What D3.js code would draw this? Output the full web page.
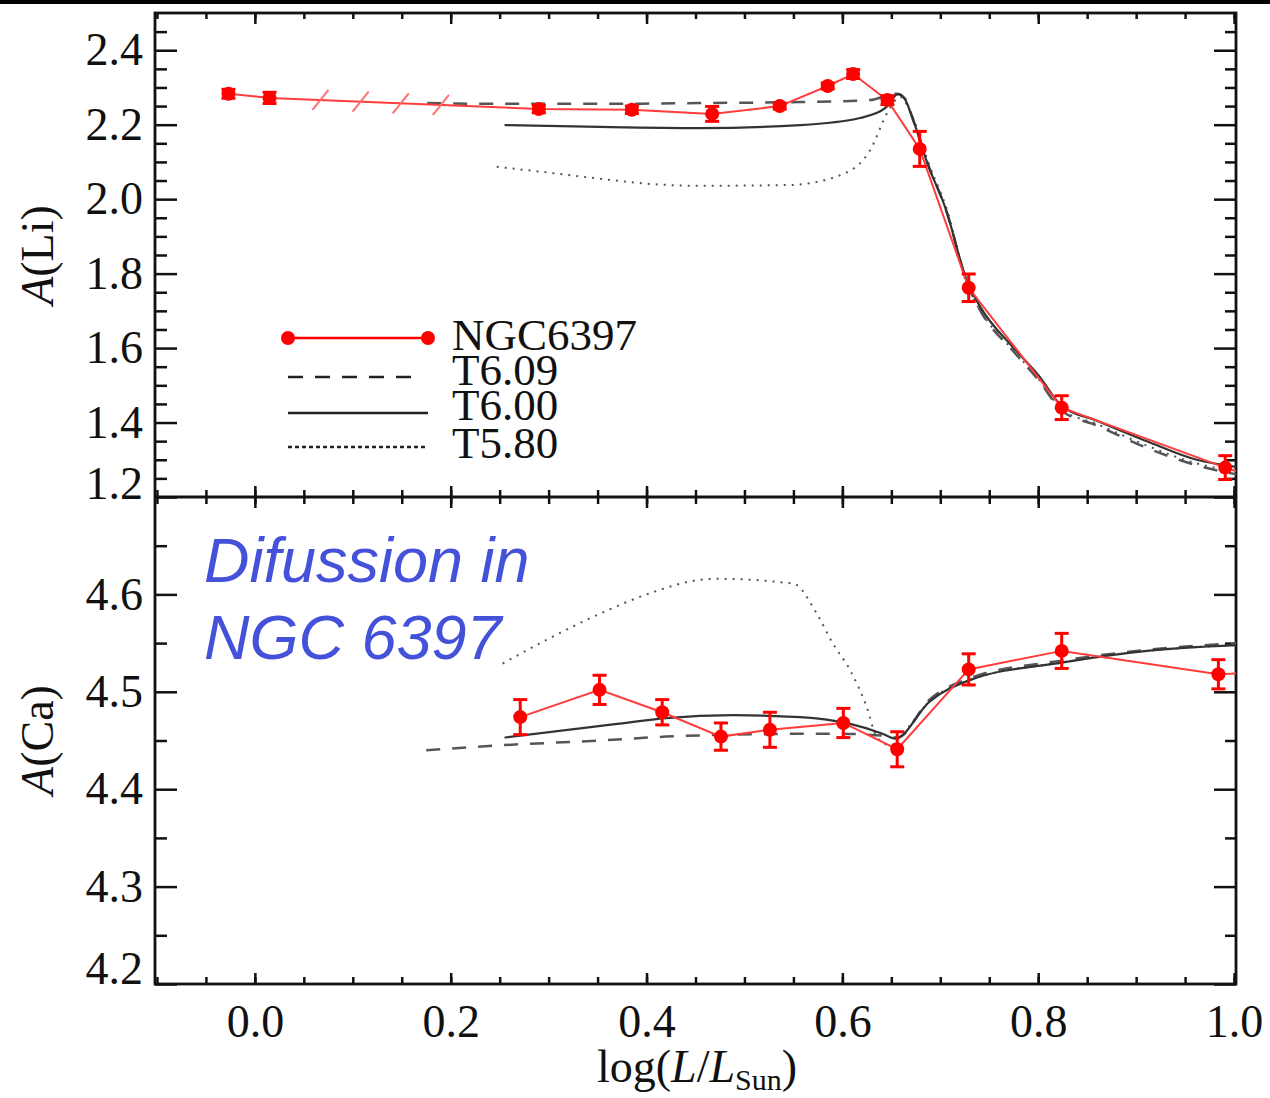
<!DOCTYPE html>
<html>

<head>
    <meta charset='utf-8' />
    <title>Li and Ca abundances NGC6397</title>
    <script src="https://cdn.jsdelivr.net/npm/d3@7"></script>
    <style>
        body {
            margin: 0;
            padding: 0;
            background: #fff;
        }

        .tick line {
            stroke: #111;
            stroke-width: 2.5;
        }

        .tick text {
            font-family: "Liberation Serif", "Times New Roman", serif;
            font-size: 46px;
            fill: #111;
        }
    </style>
</head>

<body>
    <div id='chart'></div>
    <script>
        // NGC6397 observed points, A(Li)
        var liX = [-0.027, 0.015, 0.290, 0.385, 0.467, 0.536, 0.585, 0.611, 0.646, 0.679, 0.729, 0.824, 0.991];
        var liY = [2.283, 2.272, 2.242, 2.240, 2.229, 2.250, 2.304, 2.336, 2.266, 2.135, 1.762, 1.440, 1.279];
        var liErr = [0.012, 0.015, 0.010, 0.010, 0.020, 0.008, 0.008, 0.012, 0.012, 0.047, 0.037, 0.032, 0.032];
        var liTail = [1.004, 1.268];
        var slashX = [0.067, 0.108, 0.149, 0.190];

        // NGC6397 observed points, A(Ca)
        var caX = [0.271, 0.352, 0.416, 0.476, 0.526, 0.601, 0.656, 0.729, 0.824, 0.984];
        var caY = [4.474, 4.502, 4.479, 4.454, 4.461, 4.468, 4.441, 4.523, 4.542, 4.518];
        var caErr = [0.018, 0.015, 0.013, 0.014, 0.018, 0.015, 0.018, 0.016, 0.018, 0.015];
        var caTail = [1.004, 4.519];

        // model tracks [logL, A]
        var t609Li = [[0.176, 2.258], [0.250, 2.256], [0.352, 2.256], [0.455, 2.258], [0.557, 2.261], [0.628, 2.266],
            [0.654, 2.283], [0.664, 2.270], [0.672, 2.215], [0.688, 2.090], [0.706, 1.970], [0.728, 1.770],
            [0.741, 1.700], [0.775, 1.590], [0.800, 1.515], [0.824, 1.432], [0.860, 1.392], [0.911, 1.332],
            [0.962, 1.285], [1.004, 1.260]];
        var t600Li = [[0.255, 2.199], [0.352, 2.194], [0.455, 2.191], [0.557, 2.199], [0.618, 2.218], [0.644, 2.245],
            [0.657, 2.283], [0.664, 2.268], [0.672, 2.215], [0.687, 2.095], [0.705, 1.978], [0.728, 1.775],
            [0.741, 1.710], [0.775, 1.600], [0.800, 1.528], [0.824, 1.445], [0.860, 1.405], [0.911, 1.350],
            [0.962, 1.300], [1.004, 1.280]];
        var t580Li = [[0.247, 2.087], [0.301, 2.071], [0.352, 2.055], [0.403, 2.041], [0.455, 2.036], [0.546, 2.038],
            [0.603, 2.070], [0.628, 2.130], [0.647, 2.237], [0.659, 2.275], [0.669, 2.237], [0.689, 2.090],
            [0.707, 1.970], [0.728, 1.765], [0.741, 1.700], [0.775, 1.592], [0.800, 1.518], [0.824, 1.436],
            [0.860, 1.396], [0.911, 1.338], [0.962, 1.290], [1.004, 1.268]];

        var t609Ca = [[0.175, 4.440], [0.250, 4.445], [0.352, 4.450], [0.420, 4.454], [0.488, 4.456], [0.590, 4.457],
            [0.641, 4.455], [0.656, 4.453], [0.689, 4.492], [0.730, 4.514], [0.824, 4.532], [0.911, 4.543], [1.004, 4.550]];
        var t600Ca = [[0.255, 4.453], [0.370, 4.467], [0.420, 4.473], [0.488, 4.476], [0.557, 4.474], [0.608, 4.467],
            [0.641, 4.457], [0.654, 4.452], [0.689, 4.490], [0.730, 4.512], [0.824, 4.530], [0.911, 4.542], [1.004, 4.548]];
        var t580Ca = [[0.253, 4.529], [0.301, 4.555], [0.352, 4.580], [0.403, 4.601], [0.455, 4.615], [0.472, 4.616],
            [0.550, 4.611], [0.574, 4.580], [0.590, 4.550], [0.608, 4.522], [0.625, 4.484], [0.635, 4.454],
            [0.649, 4.445], [0.660, 4.455], [0.689, 4.490], [0.730, 4.512], [0.824, 4.530], [0.911, 4.542], [1.004, 4.548]];

        // ticks
        var xMajor = [0, 0.2, 0.4, 0.6, 0.8, 1.0];
        var xMinor = d3.range(-0.1, 1.0001, 0.05).map(function (v) { return +v.toFixed(2); });
        var liMajor = [1.2, 1.4, 1.6, 1.8, 2.0, 2.2, 2.4];
        var liMinor = [1.25, 1.3, 1.35, 1.45, 1.5, 1.55, 1.65, 1.7, 1.75, 1.85, 1.9, 1.95, 2.05, 2.1, 2.15, 2.25, 2.3, 2.35, 2.45];
        var caMajor = [4.2, 4.3, 4.4, 4.5, 4.6];
        var caMinor = [4.25, 4.35, 4.45, 4.55, 4.65];

        var legendNames = ["NGC6397", "T6.09", "T6.00", "T5.80"];

        var W = 1270, H = 1098;
        var L = 155, R = 1236, T = 13, M = 497, B = 984;
        var serif = '"Liberation Serif", "Times New Roman", serif';

        var svg = d3.select('#chart').append('svg')
            .attr('width', W).attr('height', H);

        svg.append('rect').attr('x', 0).attr('y', 0).attr('width', W).attr('height', 4).attr('fill', '#000');

        var x = d3.scaleLinear().domain([-0.102, 1.002]).range([L, R]);
        var yLi = d3.scaleLinear().domain([1.2, 2.5]).range([M, T]);
        var yCa = d3.scaleLinear().domain([4.2, 4.7]).range([B, M]);

        var defs = svg.append('defs');
        defs.append('clipPath').attr('id', 'clipTop').append('rect')
            .attr('x', L).attr('y', T).attr('width', R - L).attr('height', M - T);
        defs.append('clipPath').attr('id', 'clipBot').append('rect')
            .attr('x', L).attr('y', M).attr('width', R - L).attr('height', B - M);

        // axes: all ticks inward
        function addAxis(axis, tx, ty) {
            var g = svg.append('g').attr('transform', 'translate(' + tx + ',' + ty + ')').call(axis);
            g.select('.domain').remove();
            return g;
        }
        var none = function () { return ''; };

        // top panel
        var gLiL = addAxis(d3.axisLeft(yLi).tickValues(liMajor).tickSize(-22).tickPadding(12).tickFormat(d3.format('.1f')), L, 0);
        addAxis(d3.axisLeft(yLi).tickValues(liMinor).tickSize(-12).tickFormat(none), L, 0);
        addAxis(d3.axisRight(yLi).tickValues(liMajor).tickSize(-22).tickFormat(none), R, 0);
        addAxis(d3.axisRight(yLi).tickValues(liMinor).tickSize(-11).tickFormat(none), R, 0);
        addAxis(d3.axisTop(x).tickValues(xMajor).tickSize(-11).tickFormat(none), 0, T);
        addAxis(d3.axisTop(x).tickValues(xMinor).tickSize(-6).tickFormat(none), 0, T);
        addAxis(d3.axisBottom(x).tickValues(xMajor).tickSize(-11).tickFormat(none), 0, M);
        addAxis(d3.axisBottom(x).tickValues(xMinor).tickSize(-7).tickFormat(none), 0, M);

        // bottom panel
        var gCaL = addAxis(d3.axisLeft(yCa).tickValues(caMajor).tickSize(-22).tickPadding(12).tickFormat(d3.format('.1f')), L, 0);
        addAxis(d3.axisLeft(yCa).tickValues(caMinor).tickSize(-12).tickFormat(none), L, 0);
        addAxis(d3.axisRight(yCa).tickValues(caMajor).tickSize(-22).tickFormat(none), R, 0);
        addAxis(d3.axisRight(yCa).tickValues(caMinor).tickSize(-11).tickFormat(none), R, 0);
        addAxis(d3.axisTop(x).tickValues(xMajor).tickSize(-11).tickFormat(none), 0, M);
        addAxis(d3.axisTop(x).tickValues(xMinor).tickSize(-7).tickFormat(none), 0, M);
        addAxis(d3.axisBottom(x).tickValues(xMajor).tickSize(-11).tickPadding(20).tickFormat(d3.format('.1f')), 0, B);
        addAxis(d3.axisBottom(x).tickValues(xMinor).tickSize(-7).tickFormat(none), 0, B);

        // lowest labels are lifted to stay inside the panel
        gLiL.selectAll('.tick').filter(function (d) { return d === 1.2; }).select('text').attr('dy', '0.32em').attr('y', -13);
        gCaL.selectAll('.tick').filter(function (d) { return d === 4.2; }).select('text').attr('y', -15);

        // frame
        svg.append('rect').attr('x', L).attr('y', T).attr('width', R - L).attr('height', B - T)
            .attr('fill', 'none').attr('stroke', '#111').attr('stroke-width', 2.8);
        svg.append('line').attr('x1', L).attr('x2', R).attr('y1', M).attr('y2', M)
            .attr('stroke', '#111').attr('stroke-width', 2.8);

        // model curves
        function drawModels(y, clip, t609, t600, t580) {
            var g = svg.append('g').attr('clip-path', 'url(#' + clip + ')');
            var line = d3.line().x(function (d) { return x(d[0]); }).y(function (d) { return y(d[1]); })
                .curve(d3.curveMonotoneX);
            g.append('path').attr('d', line(t580)).attr('fill', 'none')
                .attr('stroke', '#555').attr('stroke-width', 2).attr('stroke-dasharray', '2,6');
            g.append('path').attr('d', line(t609)).attr('fill', 'none')
                .attr('stroke', '#555').attr('stroke-width', 2.5).attr('stroke-dasharray', '14,12');
            g.append('path').attr('d', line(t600)).attr('fill', 'none')
                .attr('stroke', '#333').attr('stroke-width', 2.2);
        }
        drawModels(yLi, 'clipTop', t609Li, t600Li, t580Li);
        drawModels(yCa, 'clipBot', t609Ca, t600Ca, t580Ca);

        // observed data
        function drawObs(y, clip, xs, ys, errs, tail) {
            var g = svg.append('g').attr('clip-path', 'url(#' + clip + ')');
            var pts = xs.map(function (v, i) { return [v, ys[i], errs[i]]; });
            var line = d3.line().x(function (d) { return x(d[0]); }).y(function (d) { return y(d[1]); });
            g.append('path').attr('d', line(pts.concat([tail]))).attr('fill', 'none')
                .attr('stroke', '#ff3b3b').attr('stroke-width', 2);
            var eb = g.selectAll('g.eb').data(pts).enter().append('g').attr('class', 'eb');
            eb.append('line')
                .attr('x1', function (d) { return x(d[0]); }).attr('x2', function (d) { return x(d[0]); })
                .attr('y1', function (d) { return y(d[1] - d[2]); }).attr('y2', function (d) { return y(d[1] + d[2]); })
                .attr('stroke', 'red').attr('stroke-width', 3);
            [-1, 1].forEach(function (s) {
                eb.append('line')
                    .attr('x1', function (d) { return x(d[0]) - 7; }).attr('x2', function (d) { return x(d[0]) + 7; })
                    .attr('y1', function (d) { return y(d[1] + s * d[2]); }).attr('y2', function (d) { return y(d[1] + s * d[2]); })
                    .attr('stroke', 'red').attr('stroke-width', 3);
            });
            eb.append('circle')
                .attr('cx', function (d) { return x(d[0]); }).attr('cy', function (d) { return y(d[1]); })
                .attr('r', 7).attr('fill', 'red');
            return g;
        }
        var gLi = drawObs(yLi, 'clipTop', liX, liY, liErr, liTail);
        drawObs(yCa, 'clipBot', caX, caY, caErr, caTail);

        // red slash marks on the A(Li) line
        var liInterp = d3.scaleLinear().domain(liX).range(liY);
        gLi.selectAll('line.slash').data(slashX).enter().append('line').attr('class', 'slash')
            .attr('x1', function (d) { return x(d) - 8; }).attr('x2', function (d) { return x(d) + 8; })
            .attr('y1', function (d) { return yLi(liInterp(d)) + 10; }).attr('y2', function (d) { return yLi(liInterp(d)) - 10; })
            .attr('stroke', '#ff7070').attr('stroke-width', 2);

        // legend
        var lg = svg.append('g');
        var lx0 = 288, lx1 = 428;
        var ly = [338, 377, 413, 447];
        var lyText = [350, 385, 420, 458];
        lg.append('line').attr('x1', lx0).attr('x2', lx1).attr('y1', ly[0]).attr('y2', ly[0])
            .attr('stroke', 'red').attr('stroke-width', 2.5);
        [lx0, lx1].forEach(function (cx) {
            lg.append('circle').attr('cx', cx).attr('cy', ly[0]).attr('r', 7).attr('fill', 'red');
        });
        lg.append('line').attr('x1', lx0).attr('x2', 418).attr('y1', ly[1]).attr('y2', ly[1])
            .attr('stroke', '#222').attr('stroke-width', 2.5).attr('stroke-dasharray', '15,12');
        lg.append('line').attr('x1', lx0).attr('x2', lx1).attr('y1', ly[2]).attr('y2', ly[2])
            .attr('stroke', '#222').attr('stroke-width', 2.5);
        lg.append('line').attr('x1', lx0).attr('x2', lx1).attr('y1', ly[3]).attr('y2', ly[3])
            .attr('stroke', '#222').attr('stroke-width', 2.5).attr('stroke-dasharray', '4,3');
        lg.selectAll('text').data(legendNames).enter().append('text')
            .attr('x', 452).attr('y', function (d, i) { return lyText[i]; })
            .attr('font-family', serif).attr('font-size', 45).attr('fill', '#111')
            .text(function (d) { return d; });

        // axis titles
        function yTitle(cy, sym) {
            var t = svg.append('text').attr('transform', 'translate(53,' + cy + ') rotate(-90)')
                .attr('text-anchor', 'middle').attr('font-family', serif).attr('font-size', 46).attr('fill', '#111');
            t.append('tspan').attr('font-style', 'italic').text('A');
            t.append('tspan').text('(' + sym + ')');
        }
        yTitle(255, 'Li');
        yTitle(740, 'Ca');

        var xt = svg.append('text').attr('x', 697).attr('y', 1082).attr('text-anchor', 'middle')
            .attr('font-family', serif).attr('font-size', 46).attr('fill', '#111');
        xt.append('tspan').text('log(');
        xt.append('tspan').attr('font-style', 'italic').text('L');
        xt.append('tspan').text('/');
        xt.append('tspan').attr('font-style', 'italic').text('L');
        xt.append('tspan').attr('font-size', 30).attr('dy', 8).text('Sun');
        xt.append('tspan').attr('dy', -8).text(')');

        // annotation
        var note = svg.append('text').attr('font-family', '"Liberation Sans", Arial, sans-serif')
            .attr('font-style', 'italic').attr('font-size', 63).attr('fill', '#4451d9');
        note.append('tspan').attr('x', 204).attr('y', 582).text('Difussion in');
        note.append('tspan').attr('x', 204).attr('y', 659).text('NGC 6397');
    </script>

</body>

</html>
